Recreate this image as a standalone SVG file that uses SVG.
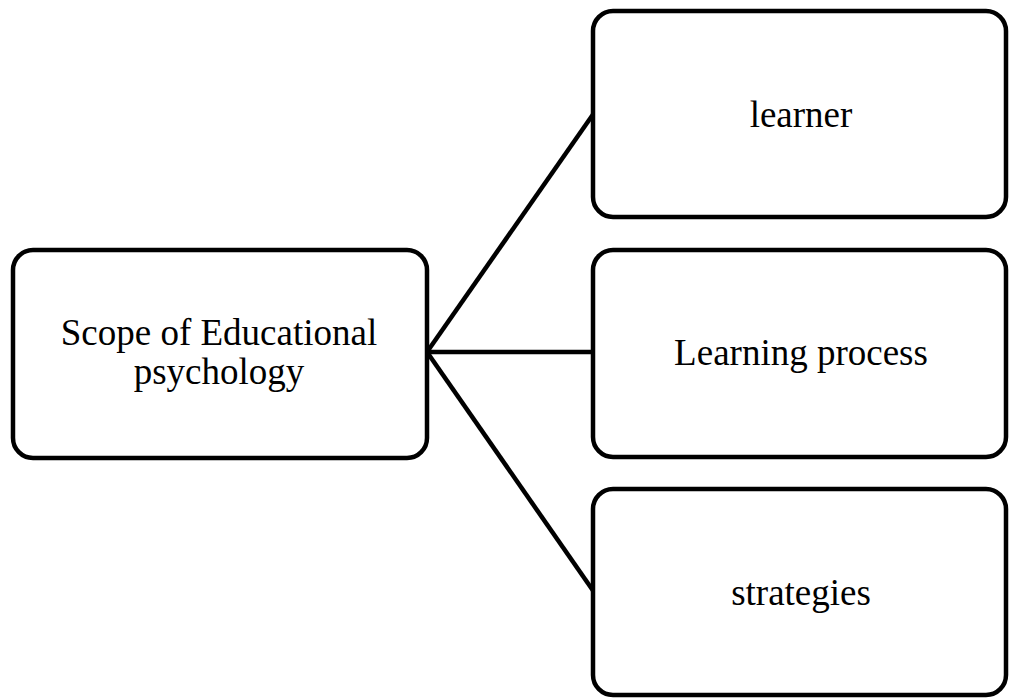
<svg xmlns="http://www.w3.org/2000/svg" width="1009" height="698" viewBox="0 0 1009 698">
<style>
.box{fill:#fff;stroke:#000;stroke-width:4.5}
.lbl{font-family:"Liberation Serif",serif;font-size:37px;fill:#000;text-anchor:middle}
.con{stroke:#000;stroke-width:4.5;fill:none}
</style>
<rect width="1009" height="698" fill="#fff"/>
<g id="connectors">
<line class="con" x1="427" y1="352" x2="594" y2="113"/>
<line class="con" x1="427" y1="352" x2="594" y2="352"/>
<line class="con" x1="427" y1="352" x2="594" y2="592"/>
</g>
<g id="node-scope">
<rect class="box" x="13" y="250" width="414" height="208" rx="20"/>
<text class="lbl" x="219" y="345">Scope of Educational</text>
<text class="lbl" x="219" y="384">psychology</text>
</g>
<g id="node-learner">
<rect class="box" x="593" y="11" width="413" height="206" rx="20"/>
<text class="lbl" x="801" y="127">learner</text>
</g>
<g id="node-learning">
<rect class="box" x="593" y="250" width="413" height="207" rx="20"/>
<text class="lbl" x="801" y="365">Learning process</text>
</g>
<g id="node-strategies">
<rect class="box" x="593" y="489" width="413" height="206" rx="20"/>
<text class="lbl" x="801" y="605">strategies</text>
</g>
</svg>
